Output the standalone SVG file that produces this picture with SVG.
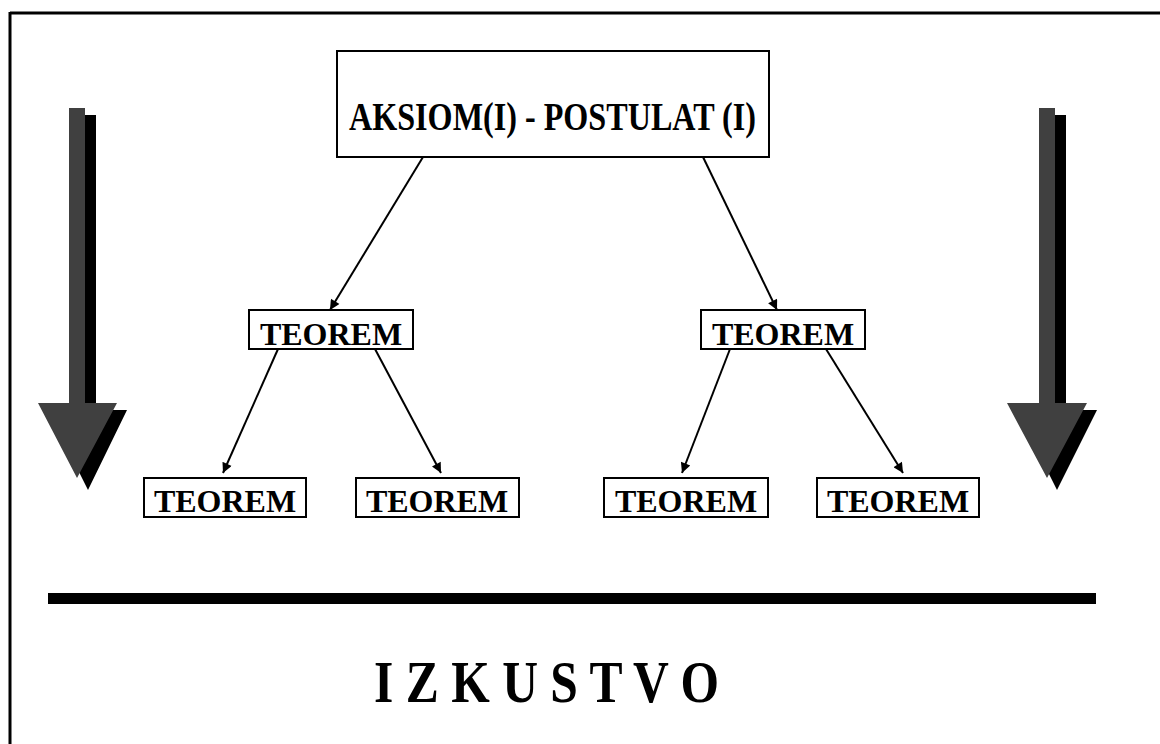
<svg xmlns="http://www.w3.org/2000/svg" width="1160" height="744" viewBox="0 0 1160 744">
<defs>
<style>
.box{fill:#fff;stroke:#000;stroke-width:2}
.lbl{font-family:"Liberation Serif","Times New Roman",serif;font-weight:bold;fill:#000}
.con{stroke:#000;stroke-width:2;fill:none;marker-end:url(#ah)}
.big{fill:#404040}
.shd{fill:#000}
</style>
<marker id="ah" viewBox="0 0 10 10" refX="10" refY="5" markerWidth="6" markerHeight="5" orient="auto" markerUnits="strokeWidth">
<path d="M0,0 L10,5 L0,10 z" fill="#000"/>
</marker>
</defs>
<rect x="0" y="0" width="1160" height="744" fill="#fff"/>
<g id="frame">
<line x1="10" y1="13" x2="1160" y2="13" stroke="#000" stroke-width="3"/>
<line x1="10" y1="12" x2="10" y2="744" stroke="#000" stroke-width="3"/>
</g>
<g id="arrow-left">
<path class="shd" d="M79,115 H96 V410 H127 L88,490 L48,410 H79 Z"/>
<path class="big" d="M69,108 H85 V403 H117 L77,478 L38,403 H69 Z"/>
</g>
<g id="arrow-right">
<path class="shd" d="M1049,115 H1066 V410 H1097 L1057,490 L1017,410 H1049 Z"/>
<path class="big" d="M1039,108 H1055 V403 H1087 L1047,478 L1007,403 H1039 Z"/>
</g>
<g id="connectors">
<line class="con" x1="423" y1="157" x2="330" y2="310"/>
<line class="con" x1="703" y1="157" x2="777" y2="310"/>
<line class="con" x1="278" y1="349" x2="223" y2="473"/>
<line class="con" x1="375" y1="349" x2="441" y2="473"/>
<line class="con" x1="730" y1="349" x2="682" y2="473"/>
<line class="con" x1="826" y1="349" x2="903" y2="473"/>
</g>
<g id="axiom">
<rect class="box" x="337" y="51" width="432" height="106"/>
<text class="lbl" x="349" y="130" font-size="40" textLength="407" lengthAdjust="spacingAndGlyphs">AKSIOM(I) - POSTULAT (I)</text>
</g>
<g id="teorem-l">
<rect class="box" x="249" y="310" width="164" height="39"/>
<text class="lbl" x="331" y="345" font-size="32" text-anchor="middle">TEOREM</text>
</g>
<g id="teorem-r">
<rect class="box" x="701" y="310" width="164" height="39"/>
<text class="lbl" x="783" y="345" font-size="32" text-anchor="middle">TEOREM</text>
</g>
<g id="teorem-ll">
<rect class="box" x="144" y="478" width="162" height="39"/>
<text class="lbl" x="225" y="512" font-size="32" text-anchor="middle">TEOREM</text>
</g>
<g id="teorem-lr">
<rect class="box" x="356" y="478" width="163" height="39"/>
<text class="lbl" x="437" y="512" font-size="32" text-anchor="middle">TEOREM</text>
</g>
<g id="teorem-rl">
<rect class="box" x="604" y="478" width="164" height="39"/>
<text class="lbl" x="686" y="512" font-size="32" text-anchor="middle">TEOREM</text>
</g>
<g id="teorem-rr">
<rect class="box" x="817" y="478" width="162" height="39"/>
<text class="lbl" x="898" y="512" font-size="32" text-anchor="middle">TEOREM</text>
</g>
<g id="rule">
<rect x="48" y="593" width="1048" height="11" fill="#000"/>
</g>
<g id="experience">
<text class="lbl" x="374" y="702" font-size="60" textLength="345" lengthAdjust="spacingAndGlyphs">I Z K U S T V O</text>
</g>
</svg>
